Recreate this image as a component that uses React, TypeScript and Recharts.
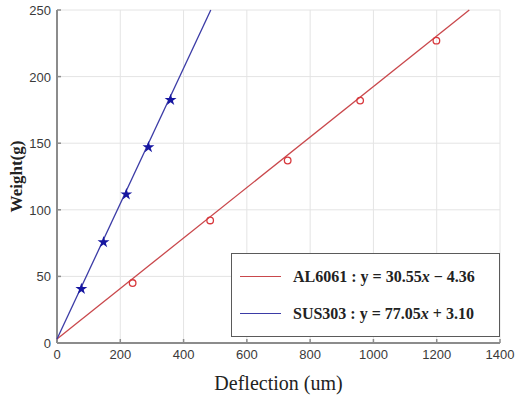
import React from "react"
import {
  CartesianGrid,
  Legend,
  Scatter,
  ScatterChart,
  Symbols,
  XAxis,
  YAxis,
} from "recharts"

// measured points (deflection um, weight g)
const al6061Points = [
  { x: 239, y: 45 },
  { x: 484, y: 92 },
  { x: 729, y: 137 },
  { x: 958, y: 182 },
  { x: 1199, y: 227 },
]

const sus303Points = [
  { x: 77, y: 40.6 },
  { x: 147, y: 75.7 },
  { x: 219, y: 111.6 },
  { x: 289, y: 147 },
  { x: 359, y: 182.5 },
]

// fitted lines, end points as drawn
const al6061Fit = [
  { x: 0, y: 3 },
  { x: 1303, y: 250 },
]

const sus303Fit = [
  { x: 0, y: 3 },
  { x: 486, y: 250 },
]

const xTicks = [0, 200, 400, 600, 800, 1000, 1200, 1400]
const yTicks = [0, 50, 100, 150, 200, 250]

const fits = [
  { name: "AL6061", slope: "30.55", intercept: "− 4.36", color: "#c9484c" },
  { name: "SUS303", slope: "77.05", intercept: "+ 3.10", color: "#3b3ba6" },
]

const AXIS = "#8c8c8c"

function XTick(props: any) {
  const { x, y, payload } = props
  return (
    <g>
      {payload.value > 0 && (
        <line x1={x} x2={x} y1={y} y2={y - 4} stroke={AXIS} strokeWidth={1.5} />
      )}
      <text
        x={x}
        y={y + 16}
        textAnchor="middle"
        fontSize={13}
        fill="#3a3a3a"
        fontFamily="'Liberation Sans', Arial, sans-serif"
      >
        {payload.value}
      </text>
    </g>
  )
}

function YTick(props: any) {
  const { x, y, payload } = props
  return (
    <g>
      {payload.value > 0 && (
        <line x1={x} x2={x + 4} y1={y} y2={y} stroke={AXIS} strokeWidth={1.5} />
      )}
      <text
        x={x - 6}
        y={y + 5}
        textAnchor="end"
        fontSize={13}
        fill="#3a3a3a"
        fontFamily="'Liberation Sans', Arial, sans-serif"
      >
        {payload.value}
      </text>
    </g>
  )
}

function FitLegend() {
  return (
    <div
      style={{
        boxSizing: "border-box",
        width: 269,
        height: 84,
        border: "1.5px solid #5a5a5a",
        background: "#fff",
        display: "flex",
        flexDirection: "column",
        justifyContent: "space-around",
        padding: "4px 0",
        fontFamily: "'Liberation Serif', 'Times New Roman', serif",
        fontWeight: "bold",
        fontSize: 16,
        color: "#222",
      }}
    >
      {fits.map((f) => (
        <div key={f.name} style={{ display: "flex", alignItems: "center" }}>
          <span
            style={{
              display: "inline-block",
              width: 41,
              height: 0,
              borderTop: `1.3px solid ${f.color}`,
              marginLeft: 8,
              marginRight: 12,
            }}
          />
          <span>
            {f.name} : y = {f.slope}
            <i>x</i> {f.intercept}
          </span>
        </div>
      ))}
    </div>
  )
}

const noDot = () => <g />

const RedDot = (props: any) => (
  <circle cx={props.cx} cy={props.cy} r={3.3} fill="none" stroke="#d8383c" strokeWidth={1.3} />
)

const BlueStar = (props: any) => (
  <Symbols cx={props.cx} cy={props.cy} type="star" size={44} fill="#1616a0" />
)

export default function App() {
  return (
    <div style={{ position: "absolute", left: 0, top: 0, background: "#fff" }}>
      <ScatterChart
        width={520}
        height={398}
        margin={{ top: 10, right: 20, bottom: 0, left: 0 }}
      >
        <CartesianGrid stroke="#e4e4e4" />
        <XAxis
          type="number"
          dataKey="x"
          domain={[0, 1400]}
          ticks={xTicks}
          height={55}
          stroke={AXIS}
          strokeWidth={2}
          tickLine={false}
          tickSize={0}
          tickMargin={0}
          tick={<XTick />}
          label={(p: any) => {
            const vb = p.viewBox
            return (
              <text
                x={vb.x + vb.width / 2}
                y={390}
                textAnchor="middle"
                fontSize={20}
                fill="#222"
                fontFamily="'Liberation Serif', 'Times New Roman', serif"
              >
                Deflection (um)
              </text>
            )
          }}
        />
        <YAxis
          type="number"
          dataKey="y"
          domain={[0, 250]}
          ticks={yTicks}
          width={57}
          stroke={AXIS}
          strokeWidth={2}
          tickLine={false}
          tickSize={0}
          tickMargin={0}
          tick={<YTick />}
          label={(p: any) => {
            const vb = p.viewBox
            const cy = vb.y + vb.height / 2
            return (
              <text
                x={22}
                y={cy}
                transform={`rotate(-90 22 ${cy})`}
                textAnchor="middle"
                fontSize={17}
                fontWeight="bold"
                fill="#222"
                fontFamily="'Liberation Serif', 'Times New Roman', serif"
              >
                Weight(g)
              </text>
            )
          }}
        />
        <Legend
          content={<FitLegend />}
          layout="horizontal"
          align="center"
          verticalAlign="middle"
          wrapperStyle={{ left: 231, top: 253, width: 269, height: 84 }}
        />
        <Scatter
          name="AL6061"
          data={al6061Fit}
          line={{ stroke: "#c9484c", strokeWidth: 1.3 }}
          shape={noDot}
          isAnimationActive={false}
        />
        <Scatter
          name="SUS303"
          data={sus303Fit}
          line={{ stroke: "#3b3ba6", strokeWidth: 1.3 }}
          shape={noDot}
          isAnimationActive={false}
        />
        <Scatter
          name="AL6061 data"
          data={al6061Points}
          shape={RedDot}
          legendType="none"
          isAnimationActive={false}
        />
        <Scatter
          name="SUS303 data"
          data={sus303Points}
          shape={BlueStar}
          legendType="none"
          isAnimationActive={false}
        />
      </ScatterChart>
    </div>
  )
}
